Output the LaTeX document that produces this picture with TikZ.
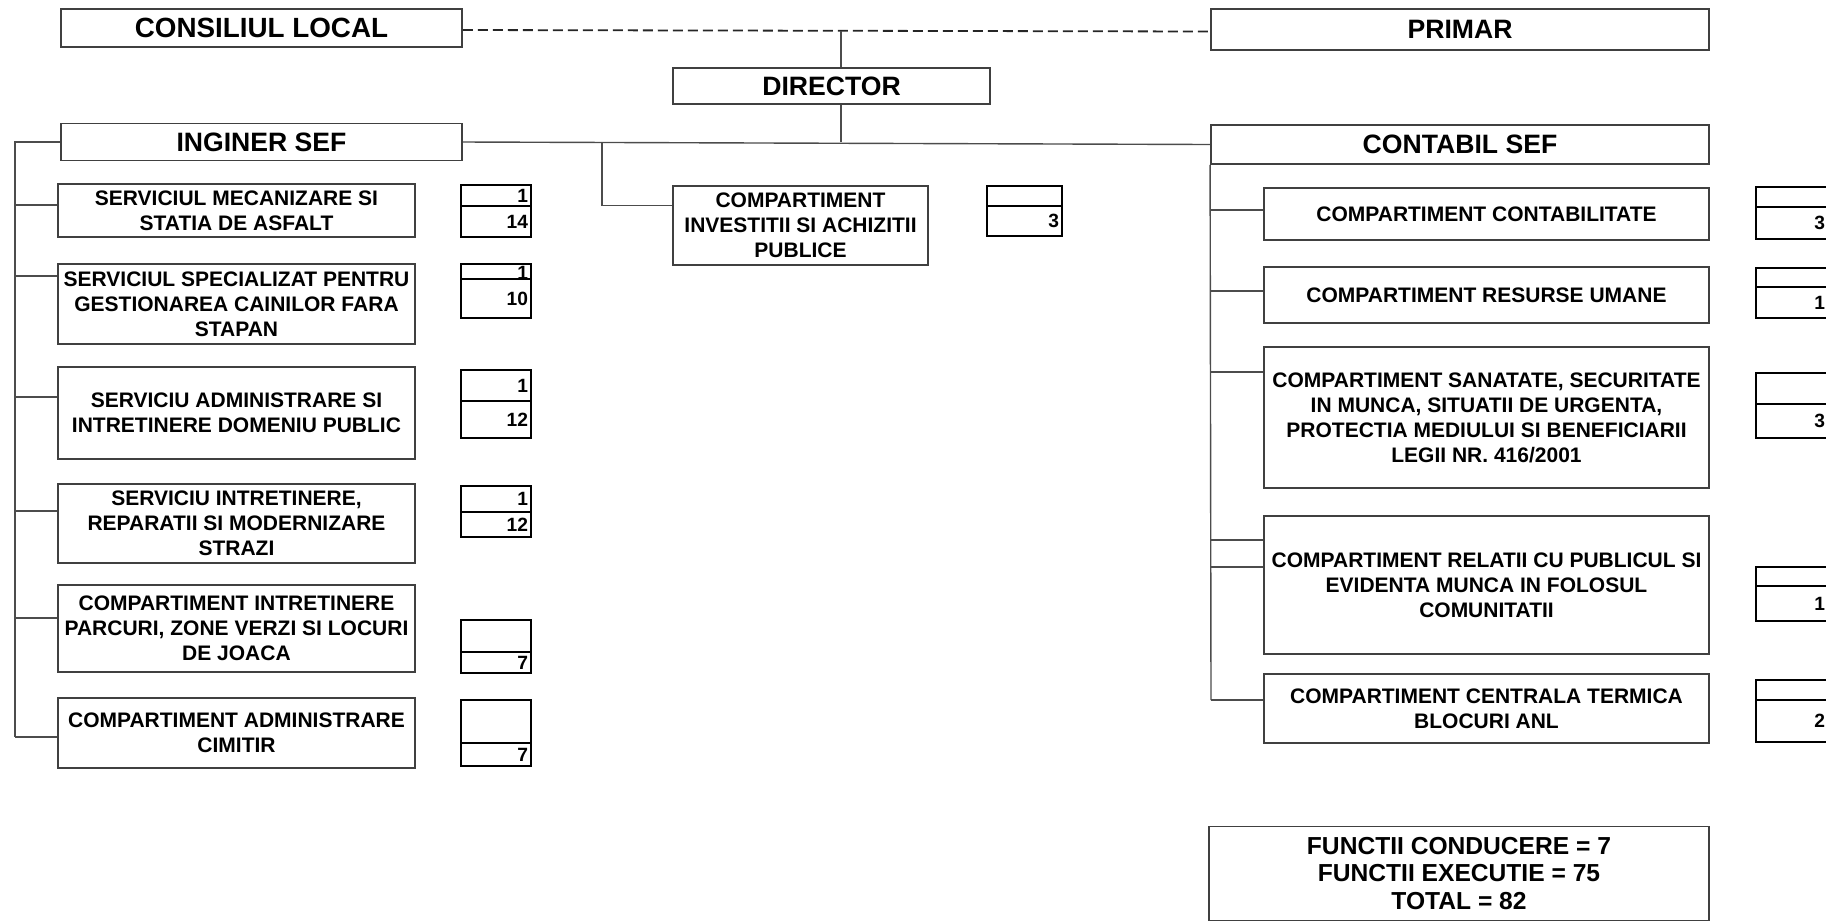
\documentclass[tikz,border=0pt]{standalone}
\usepackage{fontspec}
\setmainfont{Liberation Sans}
\begin{document}
\begin{tikzpicture}[x=0.5pt,y=-0.5pt,
  unit/.style={draw=black!75, line width=0.9pt, align=center, inner sep=0pt, font=\bfseries\fontsize{10.5}{12.5}\selectfont},
  head/.style={unit, font=\bfseries\fontsize{13.3}{15}\selectfont},
  total/.style={unit, font=\bfseries\fontsize{12.3}{13.8}\selectfont},
  cell/.style={draw=black, line width=0.7pt, inner xsep=1.5pt, inner ysep=0pt, align=right, text height=6.5pt, text depth=0pt, font=\bfseries\fontsize{9.6}{11}\selectfont},
  lcell/.style={cell, text width=32pt},
  icell/.style={cell, text width=34.5pt},
  rcell/.style={cell, text width=33pt},
  link/.style={draw=black!70, line width=0.7pt}]
\useasboundingbox (0,0) rectangle (1826,923);
\clip (0,0) rectangle (1826,923);
\node [head, font=\bfseries\fontsize{13.9}{15}\selectfont, minimum width=200.5pt, minimum height=19pt] (cl) at (261.5,28) {CONSILIUL LOCAL};
\node [head, minimum width=249pt, minimum height=20.5pt] (primar) at (1460,29.5) {PRIMAR};
\node [head, minimum width=158.5pt, minimum height=18pt] (dir) at (831.5,86) {DIRECTOR};
\node [head, minimum width=200.5pt, minimum height=18.5pt] (ing) at (261.5,142) {INGINER SEF};
\node [head, minimum width=249pt, minimum height=19.5pt] (cont) at (1460,144.5) {CONTABIL SEF};
\draw [link, draw=black!85, line width=0.9pt, dash pattern=on 5pt off 2.5pt] ([yshift=-1pt]cl.east) -- ([yshift=-1pt]primar.west);
\coordinate (jt) at (841,31);
\draw [link] (jt) -- (jt |- dir.north);
\draw [link] (jt |- dir.south) -- (jt |- ing.east);
\draw [link] (ing.east) -- (cont.west);
\node [unit, minimum width=127.5pt, minimum height=39.5pt] (inv) at (800.5,225.5) {COMPARTIMENT\\INVESTITII SI ACHIZITII\\PUBLICE};
\coordinate (jinv) at (602,143);
\draw [link] (jinv) |- ([yshift=10pt]inv.west);
\node [icell, minimum height=10pt] (inv-a) at (1024.5,196) {};
\node [icell, minimum height=15pt] (inv-b) at (1024.5,221) {3};
\coordinate (lt) at (15,737);
\node [unit, minimum width=178.5pt, minimum height=26.5pt] (ms) at (236.5,210.5) {SERVICIUL MECANIZARE SI\\STATIA DE ASFALT};
\node [unit, minimum width=178.5pt, minimum height=40pt] (cc) at (236.5,304) {SERVICIUL SPECIALIZAT PENTRU\\GESTIONAREA CAINILOR FARA\\STAPAN};
\node [unit, minimum width=178.5pt, minimum height=46pt] (adp) at (236.5,413) {SERVICIU ADMINISTRARE SI\\INTRETINERE DOMENIU PUBLIC};
\node [unit, minimum width=178.5pt, minimum height=39.5pt] (irs) at (236.5,523.5) {SERVICIU INTRETINERE,\\REPARATII SI MODERNIZARE\\STRAZI};
\node [unit, minimum width=178.5pt, minimum height=43.5pt] (pzv) at (236.5,628.5) {COMPARTIMENT INTRETINERE\\PARCURI, ZONE VERZI SI LOCURI\\DE JOACA};
\node [unit, minimum width=178.5pt, minimum height=35pt] (cim) at (236.5,733) {COMPARTIMENT ADMINISTRARE\\CIMITIR};
\draw [link] (ing.west) -| ([yshift=-2pt]cim.west -| lt);
\draw [link] ([yshift=2.75pt]ms.west) -- ([yshift=2.75pt]ms.west -| lt);
\draw [link] ([yshift=14pt]cc.west) -- ([yshift=14pt]cc.west -| lt);
\draw [link] ([yshift=8pt]adp.west) -- ([yshift=8pt]adp.west -| lt);
\draw [link] ([yshift=6.25pt]irs.west) -- ([yshift=6.25pt]irs.west -| lt);
\draw [link] ([yshift=5.25pt]pzv.west) -- ([yshift=5.25pt]pzv.west -| lt);
\draw [link] ([yshift=-2pt]cim.west) -- ([yshift=-2pt]cim.west -| lt);
\node [lcell, minimum height=10.5pt] (ms-a) at (496,195.5) {1};
\node [lcell, minimum height=15.5pt] (ms-b) at (496,221.5) {14};
\node [lcell, minimum height=7.5pt, text height=7.5pt, text depth=-1pt] (cc-a) at (496,271.5) {1};
\node [lcell, minimum height=19.5pt] (cc-b) at (496,298.5) {10};
\node [lcell, minimum height=15.5pt] (adp-a) at (496,385.5) {1};
\node [lcell, minimum height=18.5pt] (adp-b) at (496,419.5) {12};
\node [lcell, minimum height=13pt] (irs-a) at (496,499) {1};
\node [lcell, minimum height=12.5pt] (irs-b) at (496,524.5) {12};
\node [lcell, minimum height=16pt] (pzv-a) at (496,636) {};
\node [lcell, minimum height=10.5pt] (pzv-b) at (496,662.5) {7};
\node [lcell, minimum height=21.5pt] (cim-a) at (496,721.5) {};
\node [lcell, minimum height=11.5pt] (cim-b) at (496,754.5) {7};
\coordinate (rt) at (1211,700);
\node [unit, minimum width=222.5pt, minimum height=26pt] (cb) at (1486.5,214) {COMPARTIMENT CONTABILITATE};
\node [unit, minimum width=222.5pt, minimum height=28pt] (ru) at (1486.5,295) {COMPARTIMENT RESURSE UMANE};
\node [unit, minimum width=222.5pt, minimum height=70.5pt] (ssm) at (1486.5,417.5) {COMPARTIMENT SANATATE, SECURITATE\\IN MUNCA, SITUATII DE URGENTA,\\PROTECTIA MEDIULUI SI BENEFICIARII\\LEGII NR. 416/2001};
\node [unit, minimum width=222.5pt, minimum height=69pt] (rp) at (1486.5,585) {COMPARTIMENT RELATII CU PUBLICUL SI\\EVIDENTA MUNCA IN FOLOSUL\\COMUNITATII};
\node [unit, minimum width=222.5pt, minimum height=34.5pt] (ct) at (1486.5,708.5) {COMPARTIMENT CENTRALA TERMICA\\BLOCURI ANL};
\draw [link] (cont.south west) -- (rt);
\draw [link] ([yshift=2pt]cb.west) -- ([yshift=2pt]cb.west -| rt);
\draw [link] ([yshift=2pt]ru.west) -- ([yshift=2pt]ru.west -| rt);
\draw [link] ([yshift=22.75pt]ssm.west) -- ([yshift=22.75pt]ssm.west -| rt);
\draw [link] ([yshift=22.5pt]rp.west) -- ([yshift=22.5pt]rp.west -| rt);
\draw [link] ([yshift=9pt]rp.west) -- ([yshift=9pt]rp.west -| rt);
\draw [link] ([yshift=4.25pt]ct.west) -- ([yshift=4.25pt]ct.west -| rt);
\node [rcell, minimum height=10pt] (cb-a) at (1792,197) {};
\node [rcell, minimum height=16pt] (cb-b) at (1792,223) {3};
\node [rcell, minimum height=9.5pt] (ru-a) at (1792,277.5) {};
\node [rcell, minimum height=15.5pt] (ru-b) at (1792,302.5) {1};
\node [rcell, minimum height=15.5pt] (ssm-a) at (1792,388.5) {};
\node [rcell, minimum height=17pt] (ssm-b) at (1792,421) {3};
\node [rcell, minimum height=9.5pt] (rp-a) at (1792,576.5) {};
\node [rcell, minimum height=17.5pt] (rp-b) at (1792,603.5) {1};
\node [rcell, minimum height=10pt] (ct-a) at (1792,690) {};
\node [rcell, minimum height=21pt] (ct-b) at (1792,721) {2};
\node [total, minimum width=250pt, minimum height=47pt] (tot) at (1459,873.5) {FUNCTII CONDUCERE = 7\\FUNCTII EXECUTIE = 75\\TOTAL = 82};
\end{tikzpicture}
\end{document}
